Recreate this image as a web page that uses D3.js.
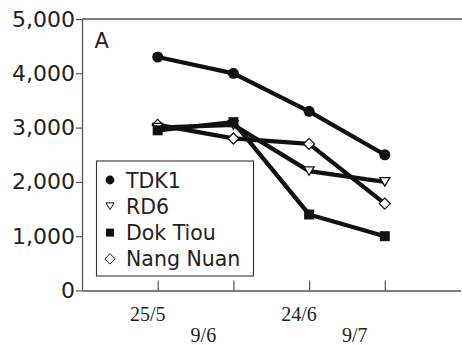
<!DOCTYPE html>
<html>
<head>
<meta charset="utf-8">
<script src="https://cdn.jsdelivr.net/npm/d3@7"></script>
<style>
  html, body { margin: 0; padding: 0; background: #fff; }
  svg { display: block; }
</style>
</head>
<body>
<svg id="chart" width="462" height="345"></svg>
<script>
// Sampling dates (day/month) and yields per variety
const dates = ["2010-05-25", "2010-06-09", "2010-06-24", "2010-07-09"];
const dateLabels = ["25/5", "9/6", "24/6", "9/7"];
const yTicks = [0, 1000, 2000, 3000, 4000, 5000];

const seriesNames = ["TDK1", "RD6", "Dok Tiou", "Nang Nuan"];
const tdk1 = [4300, 4000, 3300, 2500];
const rd6 = [3000, 3050, 2200, 2000];
const dokTiou = [2950, 3100, 1400, 1000];
const nangNuan = [3050, 2800, 2700, 1600];

const seriesValues = [tdk1, rd6, dokTiou, nangNuan];
const markerTypes = ["circle", "triangleDown", "square", "diamond"];

const parse = d3.timeParse("%Y-%m-%d");
const svg = d3.select("#chart");

const x = d3.scaleTime()
  .domain([parse("2010-05-10"), parse("2010-07-24")])
  .range([82, 460.5]);
const y = d3.scaleLinear().domain([0, 5000]).range([290.5, 19]);

const axisColor = "#555";

// Top frame line
svg.append("line")
  .attr("x1", 82).attr("x2", 462)
  .attr("y1", y(5000)).attr("y2", y(5000))
  .attr("stroke", axisColor).attr("stroke-width", 1.3);

// Y axis
const yAxis = svg.append("g")
  .attr("transform", "translate(82,0)")
  .call(d3.axisLeft(y).tickValues(yTicks).tickFormat(d3.format(",")).tickSize(6).tickPadding(1).tickSizeOuter(0));
yAxis.select(".domain").attr("stroke", axisColor).attr("stroke-width", 1.3);
yAxis.selectAll(".tick line").attr("stroke", axisColor).attr("stroke-width", 1.2);
yAxis.selectAll(".tick text")
  .attr("font-family", "DejaVu Sans, sans-serif")
  .attr("font-size", 22)
  .attr("fill", "#222");

// X axis with inward ticks
const xDates = dates.map(parse);
const xAxis = svg.append("g")
  .attr("transform", `translate(0,${y(0)})`)
  .call(d3.axisBottom(x).tickValues(xDates).tickSize(-10).tickSizeOuter(0).tickFormat(""));
xAxis.select(".domain").attr("stroke", axisColor).attr("stroke-width", 1.3);
xAxis.selectAll(".tick line").attr("stroke", axisColor).attr("stroke-width", 1.2);

// Date labels staggered in two rows
svg.append("g").selectAll("text")
  .data(dateLabels)
  .join("text")
  .attr("x", (d, i) => x(xDates[i]) + (i % 2 === 0 ? -10 : -30))
  .attr("y", (d, i) => i % 2 === 0 ? 320.5 : 341.5)
  .attr("text-anchor", "middle")
  .attr("font-family", "Liberation Serif, Times New Roman, serif")
  .attr("font-size", 20)
  .attr("fill", "#222")
  .text(d => d);

// Panel letter
svg.append("text")
  .attr("x", 94.5).attr("y", 48)
  .attr("font-family", "DejaVu Sans, sans-serif")
  .attr("font-size", 21)
  .attr("fill", "#222")
  .text("A");

// Marker drawing helper
function drawMarker(sel, type, s, sw) {
  if (type === "circle") {
    sel.append("circle").attr("r", s * 0.55).attr("fill", "#111").attr("stroke", "none");
  } else if (type === "square") {
    sel.append("rect").attr("x", -s / 2).attr("y", -s / 2).attr("width", s).attr("height", s)
      .attr("fill", "#111");
  } else if (type === "triangleDown") {
    const h = s * 0.85;
    sel.append("path").attr("d", `M${-s / 2},${-h / 2}L${s / 2},${-h / 2}L0,${h / 2}Z`)
      .attr("fill", "#fff").attr("stroke", "#111").attr("stroke-width", sw);
  } else if (type === "diamond") {
    const r = s * 0.55;
    sel.append("path").attr("d", `M0,${-r}L${r},0L0,${r}L${-r},0Z`)
      .attr("fill", "#fff").attr("stroke", "#111").attr("stroke-width", sw);
  }
}

// Series lines
const line = d3.line().x((d, i) => x(xDates[i])).y(d => y(d));
const drawOrder = [3, 1, 2, 0];
drawOrder.forEach(si => {
  svg.append("path")
    .datum(seriesValues[si])
    .attr("d", line)
    .attr("fill", "none")
    .attr("stroke", "#111")
    .attr("stroke-width", 4.3)
    .attr("stroke-linejoin", "round");
});
drawOrder.forEach(si => {
  seriesValues[si].forEach((v, i) => {
    const g = svg.append("g").attr("transform", `translate(${x(xDates[i])},${y(v)})`);
    drawMarker(g, markerTypes[si], 10, 1.3);
  });
});

// Legend
const legend = svg.append("g");
legend.append("rect")
  .attr("x", 96.5).attr("y", 161).attr("width", 157).attr("height", 115)
  .attr("fill", "#fff").attr("stroke", "#333").attr("stroke-width", 1.1);
seriesNames.forEach((name, i) => {
  const cy = 180 + i * 26.3;
  const g = legend.append("g").attr("transform", `translate(110,${cy})`);
  drawMarker(g, markerTypes[i], markerTypes[i] === "diamond" ? 9.5 : 8, 1);
  legend.append("text")
    .attr("x", 126).attr("y", cy + 7.5)
    .attr("font-family", "DejaVu Sans, sans-serif")
    .attr("font-size", 20.5)
    .attr("fill", "#222")
    .text(name);
});
</script>
</body>
</html>
